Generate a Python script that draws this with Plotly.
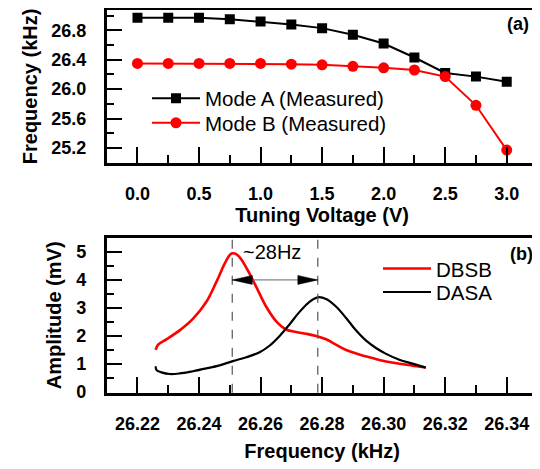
import plotly.graph_objects as go

# ---- Data: panel (a) ----
voltage = [0.0, 0.25, 0.5, 0.75, 1.0, 1.25, 1.5, 1.75, 2.0, 2.25, 2.5, 2.75, 3.0]
mode_a = [26.97, 26.97, 26.97, 26.95, 26.92, 26.88, 26.83, 26.74, 26.62, 26.43, 26.22, 26.17, 26.10]
mode_b = [26.35, 26.35, 26.35, 26.35, 26.35, 26.34, 26.33, 26.31, 26.29, 26.26, 26.17, 25.78, 25.17]

# ---- Data: panel (b) ----
dbsb_f = [26.2259, 26.2267, 26.2294, 26.2337, 26.2380, 26.2424, 26.2456, 26.2483, 26.2499, 26.2508,
          26.2521, 26.2537, 26.2559, 26.2586, 26.2618, 26.2651, 26.2683, 26.2716, 26.2748, 26.2781,
          26.2813, 26.2845, 26.2878, 26.2921, 26.2964, 26.3008, 26.3051, 26.3094, 26.3137]
dbsb_a = [1.50, 1.69, 1.88, 2.20, 2.61, 3.22, 3.92, 4.57, 4.88, 4.95,
          4.92, 4.74, 4.33, 3.75, 3.05, 2.52, 2.23, 2.14, 2.08, 2.00,
          1.88, 1.69, 1.50, 1.34, 1.21, 1.09, 1.01, 0.94, 0.87]
dasa_f = [26.2259, 26.2262, 26.2278, 26.2305, 26.2337, 26.2380, 26.2424, 26.2467, 26.2510, 26.2554,
          26.2597, 26.2629, 26.2662, 26.2694, 26.2726, 26.2759, 26.2786, 26.2813, 26.2845, 26.2878,
          26.2910, 26.2943, 26.2975, 26.3008, 26.3051, 26.3094, 26.3137]
dasa_a = [0.92, 0.78, 0.70, 0.64, 0.66, 0.74, 0.84, 0.95, 1.10, 1.24,
          1.42, 1.65, 2.00, 2.41, 2.85, 3.22, 3.38, 3.32, 3.05, 2.64,
          2.20, 1.83, 1.57, 1.36, 1.15, 1.01, 0.87]

peak_dbsb = 26.2508
peak_dasa = 26.2786
arrow_level = 4.0

RED = "#ff0000"
FONT = "Arial, Liberation Sans, sans-serif"

# page has an 8px default body margin: size the figure so it fills the 540x469 window
OFF = 8
W, H = 540 - OFF, 469 - OFF


def px(xp):
    return (xp - OFF) / W


def py(yp):
    return (H - (yp - OFF)) / H


fig = go.Figure()

fig.add_trace(go.Scatter(x=voltage, y=mode_a, mode="lines+markers", name="Mode A (Measured)",
                         line=dict(color="black", width=2),
                         marker=dict(symbol="square", size=10, color="black"),
                         xaxis="x", yaxis="y", legend="legend5"))
fig.add_trace(go.Scatter(x=voltage, y=mode_b, mode="lines+markers", name="Mode B (Measured)",
                         line=dict(color=RED, width=2),
                         marker=dict(symbol="circle", size=11, color=RED),
                         xaxis="x", yaxis="y", legend="legend3"))

fig.add_trace(go.Scatter(x=dbsb_f, y=dbsb_a, mode="lines", name="DBSB",
                         line=dict(color=RED, width=2.6, shape="spline"),
                         xaxis="x2", yaxis="y2", legend="legend2"))
fig.add_trace(go.Scatter(x=dasa_f, y=dasa_a, mode="lines", name="DASA",
                         line=dict(color="black", width=2.2, shape="spline"),
                         xaxis="x2", yaxis="y2", legend="legend4"))

xdom = [px(106.7), px(537.5)]
tickfont = dict(family=FONT, size=18, color="black", weight="bold")
titlefont = dict(family=FONT, size=20, color="black", weight="bold")
legfont = dict(family=FONT, size=20.5, color="black")

common = dict(showline=True, linewidth=2.5, linecolor="black", mirror=True,
              showgrid=False, zeroline=False, ticks="inside", ticklen=16, tickwidth=2,
              tickcolor="black", tickfont=tickfont)


def leg(xp, ytop):
    return dict(x=px(xp), y=py(ytop), xanchor="left", yanchor="top",
                bgcolor="rgba(0,0,0,0)", font=legfont, itemwidth=48, tracegroupgap=0)


fig.update_layout(
    width=W, height=H, autosize=False,
    margin=dict(l=0, r=0, t=0, b=0),
    paper_bgcolor="white", plot_bgcolor="white",
    font=dict(family=FONT, color="black"),
    xaxis=dict(domain=xdom, anchor="y", range=[-0.25, 3.25], tick0=0, dtick=0.5,
               tickformat=".1f", ticklabelstandoff=13,
               minor=dict(dtick=0.25, tick0=0, ticks="inside", ticklen=8, tickwidth=2, tickcolor="black"),
               title=dict(text="Tuning Voltage (V)", font=titlefont, standoff=3), **common),
    yaxis=dict(domain=[py(165), py(9.3)], anchor="x", range=[25.0, 27.073],
               tick0=25.2, dtick=0.4, tickformat=".1f", ticklabelstandoff=14,
               minor=dict(dtick=0.2, tick0=25.2, ticks="inside", ticklen=8, tickwidth=2, tickcolor="black"),
               title=dict(text="Frequency (kHz)", font=titlefont, standoff=9), **common),
    xaxis2=dict(domain=xdom, anchor="y2", range=[26.21, 26.35], tick0=26.22, dtick=0.02,
                tickformat=".2f", ticklabelstandoff=13,
                minor=dict(dtick=0.01, tick0=26.22, ticks="inside", ticklen=8, tickwidth=2, tickcolor="black"),
                title=dict(text="Frequency (kHz)", font=titlefont, standoff=11), **common),
    yaxis2=dict(domain=[py(400.3), py(242)], anchor="x2", range=[-0.03, 5.5],
                tick0=0, dtick=1, ticklabelstandoff=14,
                minor=dict(dtick=0.5, tick0=0, ticks="inside", ticklen=8, tickwidth=2, tickcolor="black"),
                title=dict(text="Amplitude (mV)", font=titlefont, standoff=10), **common),
    legend5=leg(147, 79),
    legend3=leg(147, 104),
    legend2=leg(378, 253),
    legend4=leg(378, 277),
)

# dashed guide lines at the two peaks
for xp in (peak_dbsb, peak_dasa):
    fig.add_shape(type="line", xref="x2", yref="y2 domain", x0=xp, x1=xp, y0=0, y1=1,
                  line=dict(color="#555555", width=1.2, dash="dash"))

# double arrow between the peaks
fig.add_shape(type="line", xref="x2", yref="y2", x0=peak_dbsb, x1=peak_dasa,
              y0=arrow_level, y1=arrow_level, line=dict(color="#666666", width=1))
fig.add_shape(type="path", xref="x2", yref="y2", xsizemode="pixel", ysizemode="pixel",
              xanchor=peak_dbsb, yanchor=arrow_level, path="M0,0 L20,4.5 L20,-4.5 Z",
              fillcolor="black", line=dict(color="black", width=0.5))
fig.add_shape(type="path", xref="x2", yref="y2", xsizemode="pixel", ysizemode="pixel",
              xanchor=peak_dasa, yanchor=arrow_level, path="M0,0 L-20,4.5 L-20,-4.5 Z",
              fillcolor="black", line=dict(color="black", width=0.5))

fig.add_annotation(text="~28Hz", xref="paper", yref="paper", x=px(241), y=py(256.5),
                   xanchor="left", yanchor="middle", showarrow=False,
                   font=dict(family=FONT, size=20, color="black"))
fig.add_annotation(text="<b>(a)</b>", xref="paper", yref="paper", x=px(531), y=py(23),
                   xanchor="right", yanchor="middle", showarrow=False,
                   font=dict(family=FONT, size=18, color="black"))
fig.add_annotation(text="<b>(b)</b>", xref="paper", yref="paper", x=px(535), y=py(258),
                   xanchor="right", yanchor="middle", showarrow=False,
                   font=dict(family=FONT, size=18, color="black"))

fig.write_html("out.html")
